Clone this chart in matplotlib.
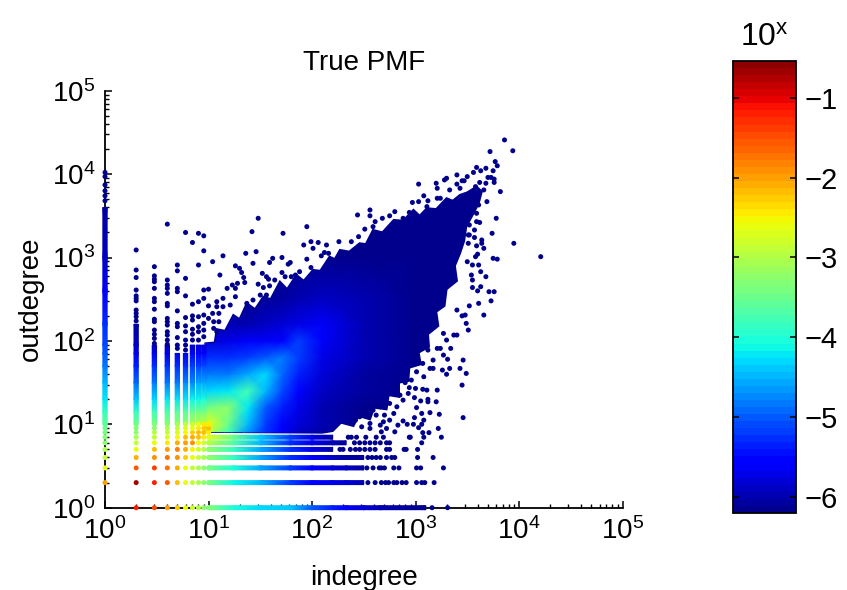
import numpy as np
import matplotlib
matplotlib.use("Agg")
import matplotlib.pyplot as plt
from matplotlib.colors import ListedColormap, Normalize
from matplotlib.patches import Polygon
from matplotlib.ticker import LogLocator, NullFormatter

plt.rcParams['font.family'] = ['Liberation Sans', 'DejaVu Sans']
plt.rcParams['mathtext.default'] = 'regular'

# log10 PMF at small integer degrees, rows = outdegree 1..10, cols = indegree 1..10
small_degrees = [1, 2, 3, 4, 5, 6, 7, 8, 9, 10]
small_pmf = [
    [np.nan, -1.2, -1.5, -2.0, -2.3, -2.6, -2.8, -3.0, -3.2, -3.3],
    [-2.0, -0.7, -1.2, -1.6, -2.2, -2.6, -2.9, -3.1, -3.2, -3.4],
    [-2.6, -1.6, -1.4, -1.7, -2.1, -2.6, -2.9, -3.1, -3.2, -3.4],
    [-2.9, -2.1, -1.9, -1.7, -1.9, -2.3, -2.6, -2.9, -3.1, -3.2],
    [-3.1, -2.6, -2.2, -2.0, -1.8, -2.1, -2.5, -2.8, -3.0, -3.2],
    [-3.2, -2.9, -2.6, -2.4, -2.1, -2.0, -1.9, -2.5, -2.8, -3.0],
    [-3.3, -3.1, -2.9, -2.7, -2.5, -2.2, -2.1, -2.2, -2.4, -2.7],
    [-3.4, -3.2, -3.0, -2.9, -2.7, -2.5, -2.3, -2.2, -2.2, -2.4],
    [-3.5, -3.3, -3.2, -3.0, -2.9, -2.7, -2.6, -2.4, -2.3, -2.2],
    [-3.6, -3.4, -3.3, -3.2, -3.1, -2.9, -2.8, -2.6, -2.4, -2.4],
]

# vertical strips: indegree 1..9, log10 outdegree levels
strip_logout = [1.0, 1.15, 1.3, 1.5, 1.7, 1.85, 1.95, 2.2, 2.6, 3.0, 3.6]
strip_pmf = [
    [-3.6, -3.9, -4.2, -4.5, -4.8, -5.0, -5.1, -5.3, -5.6, -5.9, -6.1],
    [-3.5, -3.9, -4.4, -4.9, -5.4, -5.7, -5.9, -6.1],
    [-3.4, -3.8, -4.3, -4.8, -5.3, -5.7, -5.9],
    [-3.3, -3.7, -4.2, -4.8, -5.3, -5.7, -5.9],
    [-3.2, -3.6, -4.2, -4.8, -5.3, -5.7],
    [-3.2, -3.6, -4.2, -4.7, -5.3, -5.7],
    [-3.1, -3.5, -4.1, -4.7, -5.2, -5.6, -5.9],
    [-3.0, -3.4, -4.1, -4.6, -5.2, -5.6, -5.8],
    [-2.9, -3.4, -4.0, -4.6, -5.1, -5.5, -5.8],
]

# horizontal strips: outdegree 1..7, log10 indegree levels
row_login = [1.0, 1.24, 1.5, 1.79, 2.0, 2.2, 2.33, 2.5, 2.66, 3.1]
row_pmf = [
    [-3.3, -4.0, -4.3, -4.4, -5.0, -5.4, -5.6, -5.8, -6.0, -6.2],
    [-3.4, -4.1, -4.5, -5.2, -5.5, -5.7, -5.8, -6.0],
    [-3.4, -4.0, -4.6, -5.2, -5.5, -5.8, -5.9, -6.1],
    [-3.2, -3.9, -4.6, -5.3, -5.6, -5.9, -6.1, -6.1],
    [-3.2, -3.9, -4.6, -5.3, -5.7, -6.1],
    [-3.0, -3.7, -4.5, -5.3, -5.7, -6.0, -6.1],
    [-2.7, -3.5, -4.4, -5.2, -5.7, -6.1],
]

# main body, log10 PMF
body_login = [0.95, 1.0, 1.19, 1.38, 1.55, 1.71, 1.87, 2.1, 2.5, 3.0, 3.7]
body_logout = [0.88, 1.0, 1.2, 1.4, 1.6, 1.8, 2.0, 2.2, 2.5, 3.0, 3.9]
body_pmf = [
    [-3.0, -3.0, -3.9, -4.7, -5.3, -5.6, -5.9, -6.1, -6.2, -6.2, -6.2],
    [-2.8, -2.6, -3.5, -4.5, -5.2, -5.5, -5.8, -6.0, -6.2, -6.2, -6.2],
    [-3.6, -3.4, -3.2, -4.2, -5.0, -5.4, -5.7, -6.0, -6.2, -6.2, -6.2],
    [-4.3, -4.3, -4.2, -3.8, -4.5, -5.1, -5.5, -5.9, -6.1, -6.2, -6.2],
    [-4.9, -4.8, -4.8, -4.6, -4.3, -4.9, -5.4, -5.8, -6.1, -6.2, -6.2],
    [-5.3, -5.3, -5.3, -5.2, -5.0, -4.8, -5.2, -5.7, -6.0, -6.2, -6.2],
    [-5.8, -5.8, -5.7, -5.6, -5.6, -5.5, -5.2, -5.6, -6.0, -6.2, -6.2],
    [-6.1, -6.1, -6.0, -6.0, -5.9, -5.8, -5.7, -5.6, -6.0, -6.2, -6.2],
    [-6.2, -6.2, -6.2, -6.2, -6.1, -6.1, -6.0, -5.9, -6.0, -6.2, -6.2],
    [-6.2, -6.2, -6.2, -6.2, -6.2, -6.2, -6.2, -6.2, -6.2, -6.2, -6.2],
    [-6.2, -6.2, -6.2, -6.2, -6.2, -6.2, -6.2, -6.2, -6.2, -6.2, -6.2],
]

# outline of the dense part of the cloud
edge_login = [0.97, 0.97, 1.06, 1.08, 1.16, 1.24, 1.30, 1.37, 1.45, 1.53, 1.60, 1.69, 1.76, 1.85, 1.92,
              2.01, 2.08, 2.17, 2.22, 2.27, 2.36, 2.46, 2.52, 2.59, 2.68, 2.79, 2.88, 2.98, 3.04, 3.11,
              3.20, 3.30, 3.36, 3.43, 3.50, 3.59, 3.64, 3.61, 3.56, 3.49, 3.47, 3.43, 3.38, 3.40, 3.30,
              3.28, 3.20, 3.22, 3.12, 3.13, 3.03, 3.05, 2.94, 2.93, 2.84, 2.84, 2.74, 2.72, 2.60, 2.56,
              2.45, 2.40, 2.28, 2.20, 2.10, 0.97]
edge_logout = [0.91, 1.97, 1.98, 2.14, 2.12, 2.31, 2.26, 2.45, 2.38, 2.53, 2.50, 2.71, 2.62, 2.79, 2.72,
               2.85, 2.84, 3.01, 2.98, 3.09, 3.07, 3.17, 3.16, 3.33, 3.30, 3.45, 3.44, 3.57, 3.50, 3.59,
               3.58, 3.71, 3.68, 3.75, 3.78, 3.85, 3.79, 3.65, 3.53, 3.37, 3.20, 3.05, 2.90, 2.72, 2.62,
               2.42, 2.35, 2.18, 2.08, 1.93, 1.86, 1.72, 1.68, 1.52, 1.50, 1.33, 1.35, 1.18, 1.20, 1.06,
               1.10, 0.98, 1.02, 0.92, 0.90, 0.91]

# sparse points on the low integer columns: log10 outdegree
col_sparse = {
    1: [4.02, 3.97, 3.87, 3.80, 3.74, 3.68],
    2: [3.09, 2.85, 2.76, 2.61, 2.54, 2.51, 2.48, 2.37, 2.33, 2.29, 2.24],
    3: [2.89, 2.78, 2.74, 2.71, 2.63, 2.51, 2.47, 2.38, 2.26, 2.23, 2.13, 2.08, 2.03, 1.97],
    4: [3.40, 2.73, 2.67, 2.63, 2.57, 2.45, 2.42, 2.27, 2.23, 2.19, 2.11, 2.07, 2.01, 1.96],
    5: [2.91, 2.84, 2.63, 2.59, 2.36, 2.21, 2.17, 2.04, 1.95, 1.91],
    6: [3.30, 2.75, 2.54, 2.28, 2.18, 2.11, 2.01, 1.95, 1.89],
    7: [3.18, 2.44, 2.30, 2.25, 2.14, 2.08, 2.01],
    8: [3.29, 2.91, 2.47, 2.29, 2.17, 2.11, 2.01],
    9: [3.26, 3.08, 2.61, 2.51, 2.31, 2.21, 2.13, 2.05],
}

# sparse points at the end of the low outdegree rows: log10 indegree
row_sparse = {
    1: [3.16, 3.31],
    2: [2.54, 2.61, 2.67, 2.71, 2.74, 2.79, 2.82, 2.87, 2.91, 3.01, 3.06, 3.09, 3.18],
    3: [2.53, 2.59, 2.65, 2.67, 2.70, 2.79, 2.84, 3.01, 3.05, 3.27],
    4: [2.54, 2.58, 2.62, 2.66, 2.72, 2.77, 2.80, 3.02, 3.17],
    5: [2.27, 2.30, 2.37, 2.42, 2.46, 2.51, 2.56, 2.61, 2.72, 2.75, 2.89, 2.91, 3.02],
    6: [2.41, 2.46, 2.51, 2.56, 2.61, 2.66, 2.72, 2.75, 3.06],
    7: [2.35, 2.38, 2.43, 2.52, 2.62, 2.69, 2.94, 2.95, 3.08, 3.25],
}

# loose points around the cloud (log10 indegree, log10 outdegree)
upper_login = [1.0, 1.0, 1.0, 1.04, 1.14, 1.36, 1.46, 1.43, 1.48, 1.42, 1.72, 1.95, 1.71, 1.62, 1.59,
               1.79, 1.77, 1.92, 1.99, 2.06, 2.01, 2.14, 2.26, 1.95, 2.09, 2.12, 2.16, 1.26, 1.30, 1.32,
               1.11, 1.34, 1.35, 1.28, 1.23, 1.26, 1.18, 1.52, 1.56, 1.58, 1.64, 1.71, 1.74, 1.80, 1.84,
               1.88, 1.99, 1.48, 1.53, 1.59, 1.14, 1.26, 1.08, 1.08, 1.14, 1.21, 1.04, 1.10, 1.05, 1.10,
               1.08, 1.05, 1.37, 1.43, 1.50, 1.56]
upper_logout = [2.62, 2.42, 2.27, 2.95, 3.02, 3.05, 3.07, 2.93, 3.47, 3.31, 3.29, 3.37, 3.00, 2.99, 2.94,
                2.94, 2.92, 3.15, 3.19, 3.18, 3.11, 3.15, 3.19, 2.98, 3.02, 3.06, 3.05, 2.90, 2.87, 2.82,
                2.79, 2.76, 2.70, 2.69, 2.67, 2.63, 2.63, 2.81, 2.77, 2.74, 2.73, 2.82, 2.77, 2.77, 2.79,
                2.83, 2.88, 2.68, 2.64, 2.66, 2.51, 2.53, 2.47, 2.41, 2.41, 2.43, 2.33, 2.33, 2.23, 2.23,
                2.11, 2.15, 2.45, 2.49, 2.55, 2.55]

top_login = [3.86, 3.94, 3.72, 3.77, 3.79, 3.68, 3.59, 3.63, 3.75, 3.56, 3.50, 3.40, 3.30, 3.28, 3.20,
             3.21, 3.03, 3.40, 3.45, 3.47, 3.62, 3.68, 3.70, 3.73, 3.76, 3.76, 3.82, 3.69, 3.78, 3.74,
             3.95, 4.21, 3.75, 3.79, 3.64, 3.64, 3.66, 3.57, 3.59, 3.62, 3.52, 3.57, 3.52, 3.51, 3.59,
             3.60, 3.58, 3.50, 3.55, 3.61, 3.63, 3.68, 3.54, 3.55, 3.63, 3.55, 3.60, 3.76, 3.71, 3.08,
             3.12, 2.44, 2.56, 2.56, 2.68, 2.75, 2.80, 2.94, 2.97, 3.03, 3.21, 3.24, 3.33, 3.43, 3.58,
             3.66, 3.11, 2.51, 2.45, 2.38, 2.59, 2.61, 2.88, 3.59, 3.61, 3.59, 3.48, 3.51]
top_logout = [4.41, 4.28, 4.27, 4.15, 4.10, 4.07, 4.08, 4.04, 4.04, 4.02, 3.97, 3.99, 3.95, 3.93, 3.89,
              3.83, 3.88, 3.88, 3.92, 3.92, 3.90, 3.89, 3.96, 3.96, 3.94, 3.90, 3.79, 3.67, 3.47, 3.29,
              3.17, 3.01, 2.99, 2.98, 3.21, 3.17, 3.11, 3.33, 3.43, 3.42, 3.39, 3.24, 3.27, 3.17, 3.14,
              3.04, 3.01, 2.95, 2.91, 2.91, 2.83, 2.77, 2.79, 2.73, 2.65, 2.64, 2.60, 2.59, 2.59, 3.74,
              3.68, 3.51, 3.57, 3.50, 3.47, 3.50, 3.55, 3.54, 3.66, 3.67, 3.71, 3.71, 3.81, 3.83, 3.85,
              3.81, 3.61, 3.34, 3.25, 3.19, 3.37, 3.43, 3.47, 3.73, 3.63, 3.53, 3.49, 3.27]

lower_login = [3.66, 3.52, 3.61, 3.73, 3.51, 3.49, 3.45, 3.48, 3.40, 3.34, 3.46, 3.31, 3.37, 3.40, 3.27,
               3.43, 3.49, 3.33, 3.26, 3.30, 3.17, 3.45, 3.21, 3.20, 3.12, 3.12, 3.05, 2.99, 3.01, 3.14,
               3.23, 3.46, 3.06, 2.99, 3.08, 2.98, 3.06, 3.03, 2.92, 2.88, 2.83, 3.22, 3.13, 3.07, 3.11,
               3.07, 3.00, 2.94, 2.90, 2.93, 2.85, 2.80, 2.82, 2.75, 2.66, 2.59, 2.88, 2.79, 2.70, 2.62,
               2.75, 2.69, 2.56, 2.66, 2.56, 2.46, 2.48, 2.42, 2.72, 2.80, 2.67, 3.08, 3.14, 2.96, 3.01,
               3.07, 3.17, 3.24, 3.12, 3.21, 3.30, 3.27]
lower_logout = [2.31, 2.42, 2.45, 2.48, 2.13, 2.21, 2.30, 2.31, 2.37, 1.91, 1.77, 1.78, 2.07, 2.07, 1.83,
                1.67, 1.61, 1.67, 1.65, 1.60, 1.67, 1.47, 1.41, 1.27, 1.30, 1.27, 1.28, 1.32, 1.20, 1.14,
                1.12, 1.08, 1.13, 1.08, 1.05, 1.00, 1.00, 0.96, 1.00, 1.04, 0.99, 0.95, 0.90, 0.90, 1.41,
                1.42, 1.43, 1.44, 1.50, 1.37, 1.35, 1.41, 1.21, 1.25, 1.21, 1.17, 1.29, 1.13, 1.11, 1.11,
                1.05, 1.03, 1.01, 0.99, 0.95, 1.09, 0.97, 1.05, 0.95, 0.91, 0.91, 1.57, 1.67, 1.53, 1.63,
                1.73, 1.77, 1.91, 1.89, 1.91, 2.01, 2.09]

cbar_ticks = [-1, -2, -3, -4, -5, -6]
pmf_min, pmf_max = -6.2, -0.54

# 64 level jet with the lighter ends of the original
cmap = ListedColormap(matplotlib.colormaps['jet'](np.linspace(0.014, 0.986, 64)))
norm = Normalize(pmf_min, pmf_max)
dot_size = 13
strip_half_x = 10 ** 0.021
strip_half_y = 10 ** 0.024

fig = plt.figure(figsize=(8.47, 5.90), dpi=100)
ax = fig.add_axes([105 / 847, 82.3 / 590, 517.5 / 847, 417 / 590])
ax.set_xscale('log')
ax.set_yscale('log')

# cloud body
outline = Polygon(np.column_stack([10.0 ** np.array(edge_login), 10.0 ** np.array(edge_logout)]),
                  closed=True, facecolor=cmap(0), edgecolor=cmap(0), lw=1.5, zorder=2,
                  transform=ax.transData)
ax.add_patch(outline)
body = ax.pcolormesh(10.0 ** np.array(body_login), 10.0 ** np.array(body_logout), np.array(body_pmf),
                     cmap=cmap, norm=norm, shading='gouraud', zorder=2.1)
body.set_clip_path(outline)

# strips on the integer degrees
for deg, vals in zip(small_degrees, strip_pmf):
    levels = 10.0 ** np.array(strip_logout[:len(vals)])
    grid = np.column_stack([vals, vals])
    ax.pcolormesh([deg / strip_half_x, deg * strip_half_x], levels, grid, cmap=cmap, norm=norm,
                  shading='gouraud', zorder=3, clip_on=False)

for deg, vals in zip(small_degrees, row_pmf):
    levels = 10.0 ** np.array(row_login[:len(vals)])
    grid = np.vstack([vals, vals])
    ax.pcolormesh(levels, [deg / strip_half_y, deg * strip_half_y], grid, cmap=cmap, norm=norm,
                  shading='gouraud', zorder=3, clip_on=False)

# small degree dots
xx, yy = np.meshgrid(small_degrees, small_degrees)
ax.scatter(xx.ravel(), yy.ravel(), c=np.array(small_pmf).ravel(), cmap=cmap, norm=norm, s=dot_size,
           linewidths=0, zorder=4, clip_on=False)

# sparse dark points
for deg, vals in col_sparse.items():
    ax.scatter([deg] * len(vals), 10.0 ** np.array(vals), c=[pmf_min] * len(vals), cmap=cmap, norm=norm,
               s=dot_size, linewidths=0, zorder=4, clip_on=False)
for deg, vals in row_sparse.items():
    ax.scatter(10.0 ** np.array(vals), [deg] * len(vals), c=[pmf_min] * len(vals), cmap=cmap, norm=norm,
               s=dot_size, linewidths=0, zorder=4, clip_on=False)
for lx, ly in [(upper_login, upper_logout), (top_login, top_logout), (lower_login, lower_logout)]:
    sc = ax.scatter(10.0 ** np.array(lx), 10.0 ** np.array(ly), c=[pmf_min] * len(lx), cmap=cmap, norm=norm,
                    s=dot_size, linewidths=0, zorder=4)

ax.set_xlim(1, 1e5)
ax.set_ylim(1, 1e5)
ax.spines['top'].set_visible(False)
ax.spines['right'].set_visible(False)
ax.spines['left'].set_linewidth(1.3)
ax.spines['bottom'].set_linewidth(1.3)
for axis in (ax.xaxis, ax.yaxis):
    axis.set_major_locator(LogLocator(base=10, numticks=7))
    axis.set_minor_locator(LogLocator(base=10, subs=range(2, 10), numticks=7))
    axis.set_minor_formatter(NullFormatter())
ax.tick_params(which='major', direction='in', length=5, width=1.1, labelsize=20, pad=7)
ax.tick_params(which='minor', direction='in', length=3, width=1.0)
ax.set_title('True PMF', fontsize=20, pad=15)
ax.set_xlabel('indegree', fontsize=20, labelpad=14)
ax.set_ylabel('outdegree', fontsize=20, labelpad=6)

# colorbar
cax = fig.add_axes([733 / 847, (590 - 513) / 590, 63 / 847, 452 / 590])
cb = fig.colorbar(sc, cax=cax)
cb.set_ticks(cbar_ticks)
cb.minorticks_off()
cb.outline.set_linewidth(1.3)
cax.tick_params(direction='in', length=4, width=1.1, labelsize=21, left=True, right=True, pad=6)
cax.set_title('$10^{x}$', fontsize=23, pad=11)

fig.savefig('out.png', dpi=100)
